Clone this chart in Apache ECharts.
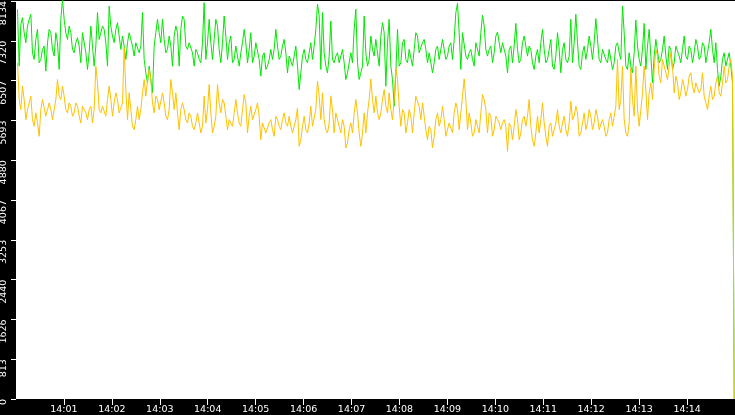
<!DOCTYPE html>
<html><head><meta charset="utf-8">
<script src="https://cdn.jsdelivr.net/npm/echarts@6/dist/echarts.min.js"></script>
<style>html,body{margin:0;padding:0;background:#000;overflow:hidden;}#c{width:735px;height:415px;}</style>
</head><body><div id="c"></div>
<script>
// Each reading window covers ~4.17 s; the high and low value seen in each window.
const chunkSeconds = 4.1725;
const greenHigh = [
7964,7793,7486,7759,7862,7349,7554,7145,7213,7554,
7486,7486,7281,8169,7759,7623,7486,7281,7384,7486,
7281,7076,7623,7213,7896,7623,7554,8032,7623,7554,
7691,7418,7213,7486,7486,7281,7281,7896,6940,6803,
6803,7486,7759,7759,7349,7418,7213,7623,7486,7828,
7759,7281,7281,7145,7076,
7281,8101,7759,7281,7759,7623,7281,7828,7281,7418,
7213,7213,7281,7554,7145,7486,7281,7281,7008,7076,
6940,7145,7554,7213,
7213,7349,7008,7008,7213,6803,7008,7145,7076,7281,
7554,8067,7896,7076,7008,7725,7008,7076,7145,6871,
6871,7076,7964,6871,6803,7828,6940,7418,7349,7076,
7691,7486,7759,6803,6666,7554,7281,7349,7145,
7145,7486,7418,7281,7349,7076,7076,7145,7213,7349,
7145,7213,7281,7896,8087,7486,7486,7076,7145,7281,
7281,7841,7623,7145,
7213,7418,7500,7281,7281,7145,7213,7677,7145,7281,
7418,7213,7145,7008,7145,7554,7145,7145,7349,7008,7486,
7145,7281,7008,7759,7862,7281,7076,7213,7418,7213,
7773,7349,7145,7145,7145,7145,7213,7281,8032,7486,
7076,6803,7746,7213,7145,7677,7554,7008,7349,7349,
7145,7418,7213,7145,7213,7213,7145,7418,7213,7145,
7349,7213,7281,7213,7281,7554,7281,6735,6940,7076,7076,6803
];
const greenLow = [
6803,7657,7281,7623,7076,6940,6871,6940,6701,7281,
7145,7008,6735,7759,7486,7349,7145,7076,7213,6871,
7076,6735,7213,6803,7349,7349,7281,6803,7418,7281,
7418,7145,6940,7281,7213,7008,7076,7213,6666,6461,
6257,7213,7486,7281,7076,7145,6803,7418,6803,7554,
7213,7145,7076,6803,6940,
6871,6940,7281,6940,7349,7145,6871,7418,6940,6871,
6940,6803,7076,7281,6871,6871,7008,6940,6598,6735,
6803,6940,7145,6940,
7008,7076,6666,6803,7008,6325,6666,6940,6871,6940,
7213,7828,6735,6803,6666,6940,6871,6871,6871,6530,
6666,6871,7554,6530,6666,7076,6803,7145,7008,6803,
7418,6393,7281,6530,5983,6803,6871,6940,6871,
6803,7145,7076,7076,7145,6871,6666,6871,6940,6940,
6940,7008,6940,7349,7486,6735,7008,6940,6940,6803,
7008,7486,7145,7008,
6871,7076,7281,7076,7008,6666,6871,7213,6871,6940,
7213,7008,6871,6735,6871,7281,6871,6940,6803,6735,7145,
6666,6940,6871,6871,7281,6803,6735,6940,7145,6940,
7281,6940,6871,6940,6871,6735,6871,7076,6940,6803,
6735,6666,7076,6940,6803,6735,7213,6461,7008,6871,
6940,7008,6735,6735,6871,7008,6871,7008,6940,6871,
7076,6940,7008,6871,7076,7145,6871,6393,6598,6803,6803,6461
];
const goldHigh = [
6871,6393,6120,6052,6188,5847,5642,6120,6120,6052,
5915,6120,6530,6393,6188,6052,5983,6052,5983,5983,
5983,5915,5983,6803,6461,5983,5983,6393,6120,6257,
6120,6052,7179,6257,5915,5710,5983,6257,6530,6735,
6530,6188,6120,6257,6052,5915,6530,6257,5847,6052,
5915,5847,5779,5642,5847,
5574,6188,6427,5847,5779,6427,6120,6052,5710,5710,
6120,5847,5915,6222,5779,5983,5915,6052,5642,5642,
5642,5710,5779,5710,
5710,5847,5779,5574,5710,5949,5574,5779,5642,5983,
5915,6496,6257,5710,5642,6188,5847,5847,5710,5574,
5505,5642,6120,5847,5437,5847,6120,6543,6188,5847,
6120,6325,6257,5915,6769,6530,5915,5847,5915,
5779,6188,6188,6052,5779,5574,5505,5710,5847,5983,
5710,5642,5642,6052,5915,6188,6543,5847,5642,5710,
5710,6222,6120,5847,
5779,5779,5779,5642,5710,5642,5574,5915,5710,5710,
5779,6120,5574,5437,5779,6052,5642,5574,5642,5642,5915,
5642,5779,5642,6086,5983,5847,5642,5847,5915,5779,
5915,5779,5710,5574,5710,5847,5983,6940,6803,5710,
5642,6769,6803,5915,6257,6803,6257,6461,7145,7008,
6940,6940,6803,7076,6598,6461,6530,6393,6598,6666,
6461,6461,6666,6188,6188,6393,6461,6598,6461,6803,6803,6940
];
const goldLow = [
6120,5915,5710,5915,5710,5574,5369,5915,5779,5915,
5710,5915,6188,6120,5915,5847,5779,5847,5779,5642,
5847,5710,5642,5915,5915,5847,5779,6120,5779,6052,
5847,5847,6325,5710,5574,5505,5710,5915,6188,6530,
6052,5847,5915,5915,5779,5710,6257,5915,5505,5915,
5710,5642,5574,5505,5642,
5437,5642,5915,5437,5574,6052,5847,5779,5505,5574,
5847,5642,5574,6052,5437,5710,5710,5779,5300,5437,
5437,5505,5369,5574,
5505,5642,5574,5437,5574,5164,5300,5505,5437,5574,
5574,6188,5710,5505,5437,5915,5437,5574,5437,5130,
5232,5437,5847,5437,5164,5437,5847,6120,5847,5710,
5847,5983,5847,5710,6120,5983,5574,5437,5642,
5437,5847,5983,5710,5505,5300,5130,5369,5574,5710,
5369,5369,5437,5847,5505,5847,6120,5505,5369,5437,
5437,5847,5915,5437,
5369,5505,5642,5505,5574,5061,5300,5574,5300,5437,
5574,5779,5300,5164,5437,5710,5369,5164,5369,5369,5574,
5437,5505,5369,5710,5779,5369,5437,5505,5642,5505,
5642,5505,5505,5369,5437,5574,5779,5915,6120,5437,
5369,6120,5779,5574,5915,6325,5710,6120,6735,6598,
6461,6666,6530,6803,6257,6120,6257,6188,6325,6393,
6257,6257,6325,6052,5915,6120,6188,6257,6188,6461,6530,6598
];
const tailSeconds = [898, 899];
const tailGreen = [3230, 0];
const tailGold = [3230, 0];
const yTickLabels = ['0','813','1626','2440','3253','4067','4880','5693','6507','7320','8134'];
const xTickLabels = ['14:01','14:02','14:03','14:04','14:05','14:06','14:07','14:08','14:09','14:10','14:11','14:12','14:13','14:14'];
const xTickSeconds = [60,120,180,240,300,360,420,480,540,600,660,720,780,840];

function build(hi, lo, tailVals) {
  const d = [];
  for (let j = 0; j < hi.length; j++) {
    const a = (j % 2 === 0) ? [hi[j], lo[j]] : [lo[j], hi[j]];
    d.push([j * chunkSeconds + 1.88, a[0]]);
    d.push([j * chunkSeconds + 3.96, a[1]]);
  }
  tailSeconds.forEach((s, k) => d.push([s, tailVals[k]]));
  return d;
}

const chart = echarts.init(document.getElementById('c'), null, {renderer: 'canvas'});
chart.setOption({
  backgroundColor: '#000',
  animation: false,
  grid: {left: 16, right: 0, top: 1, bottom: 16, show: true, backgroundColor: '#fff', borderWidth: 0,
         containLabel: false, outerBoundsMode: 'none'},
  xAxis: {
    type: 'value', min: 0, max: 900,
    axisLine: {show: false},
    splitLine: {show: false},
    axisTick: {show: true, length: 6, lineStyle: {color: '#fff', width: 1}, customValues: xTickSeconds},
    axisLabel: {
      color: '#fff', fontFamily: 'DejaVu Sans', fontSize: 9.5, margin: 6,
      customValues: xTickSeconds, hideOverlap: false,
      formatter: (v) => xTickLabels[xTickSeconds.indexOf(v)]
    }
  },
  yAxis: {
    type: 'value', min: 0, max: 8134, interval: 813.4,
    axisLine: {show: false},
    splitLine: {show: false},
    axisTick: {show: true, length: 5, lineStyle: {color: '#fff', width: 1}},
    axisLabel: {
      color: '#fff', fontFamily: 'DejaVu Sans', fontSize: 9.5, margin: 7, rotate: 90, align: 'right',
      hideOverlap: false,
      formatter: (v) => yTickLabels[Math.round(v / 813.4)]
    }
  },
  series: [
    {type: 'line', data: build(greenHigh, greenLow, tailGreen), showSymbol: false, symbol: 'none',
     lineStyle: {color: '#00e600', width: 1}, itemStyle: {color: '#00e600'}},
    {type: 'line', data: build(goldHigh, goldLow, tailGold), showSymbol: false, symbol: 'none',
     lineStyle: {color: '#ffc000', width: 1}, itemStyle: {color: '#ffc000'}}
  ]
});
</script></body></html>
